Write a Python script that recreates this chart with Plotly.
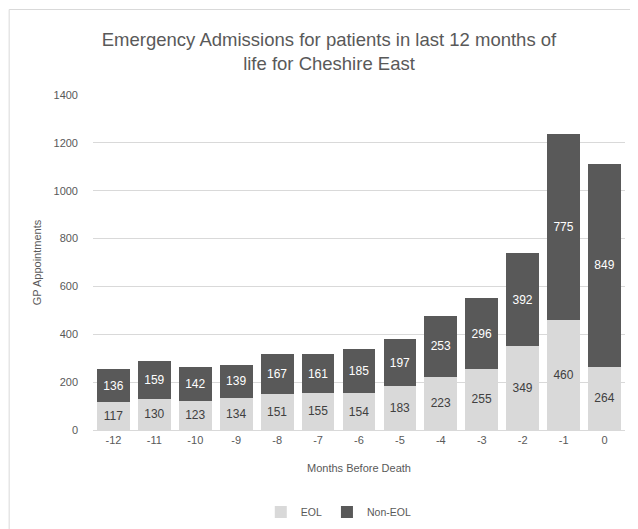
import plotly.graph_objects as go

months = ["-12", "-11", "-10", "-9", "-8", "-7", "-6", "-5", "-4", "-3", "-2", "-1", "0"]
eol = [117, 130, 123, 134, 151, 155, 154, 183, 223, 255, 349, 460, 264]
non_eol = [136, 159, 142, 139, 167, 161, 185, 197, 253, 296, 392, 775, 849]

FONT = "Liberation Sans Narrow, Arial Narrow, Liberation Sans, Arial, sans-serif"

fig = go.Figure()
fig.add_trace(go.Bar(
    x=months, y=eol, name="EOL",
    marker=dict(color="#d9d9d9", line=dict(width=0)),
    text=eol, textposition="inside", insidetextanchor="middle",
    textfont=dict(family=FONT, size=12, color="#404040"),
    textangle=0,
))
fig.add_trace(go.Bar(
    x=months, y=non_eol, name="Non-EOL",
    marker=dict(color="#595959", line=dict(width=0)),
    text=non_eol, textposition="inside", insidetextanchor="middle",
    textfont=dict(family=FONT, size=12, color="#ffffff"),
    textangle=0,
))

W, H = 630, 521
L, R, T, B = 84.5, 12.5, 87, 99
pw = W - L - R
ph = H - T - B

fig.update_layout(
    template="none",
    width=W, height=H,
    barmode="stack", bargap=0.2,
    margin=dict(l=L, r=R, t=T, b=B, pad=0, autoexpand=False),
    paper_bgcolor="white", plot_bgcolor="white",
    font=dict(family=FONT, color="#595959", size=11),
    title=dict(
        text="Emergency Admissions for patients in last 12 months of<br>life for Cheshire East",
        x=0.5095, xanchor="center", y=1 - 38 / H, yanchor="middle",
        font=dict(family=FONT, size=18.5, color="#595959"),
    ),
    xaxis=dict(
        type="category",
        title=dict(text="Months Before Death", font=dict(size=11, color="#595959"), standoff=19),
        showgrid=False, showline=True, linecolor="#d9d9d9", linewidth=1,
        ticks="", tickfont=dict(size=11, color="#595959"), automargin=False,
    ),
    yaxis=dict(
        title=dict(text="GP Appointments", font=dict(size=11, color="#595959"), standoff=9),
        range=[0, 1400], dtick=200, showgrid=True, gridcolor="#d9d9d9", gridwidth=1,
        zeroline=False, showline=False, ticks="",
        tickfont=dict(size=11, color="#595959"), ticklabelstandoff=14, automargin=False,
    ),
    legend=dict(
        orientation="h", x=0.462, xanchor="center",
        yref="container", y=1 - 504 / H, yanchor="middle",
        font=dict(size=10.5, color="#595959"), itemwidth=30, traceorder="normal",
    ),
)

fig.add_shape(
    type="rect", xref="paper", yref="paper",
    x0=(0.5 - L) / pw, x1=(W + 5 - L) / pw,
    y0=-(B + 5) / ph, y1=(ph + T - 1.5) / ph,
    line=dict(color="#d9d9d9", width=1), fillcolor="rgba(0,0,0,0)", layer="below",
)

fig.write_html("out.html")
